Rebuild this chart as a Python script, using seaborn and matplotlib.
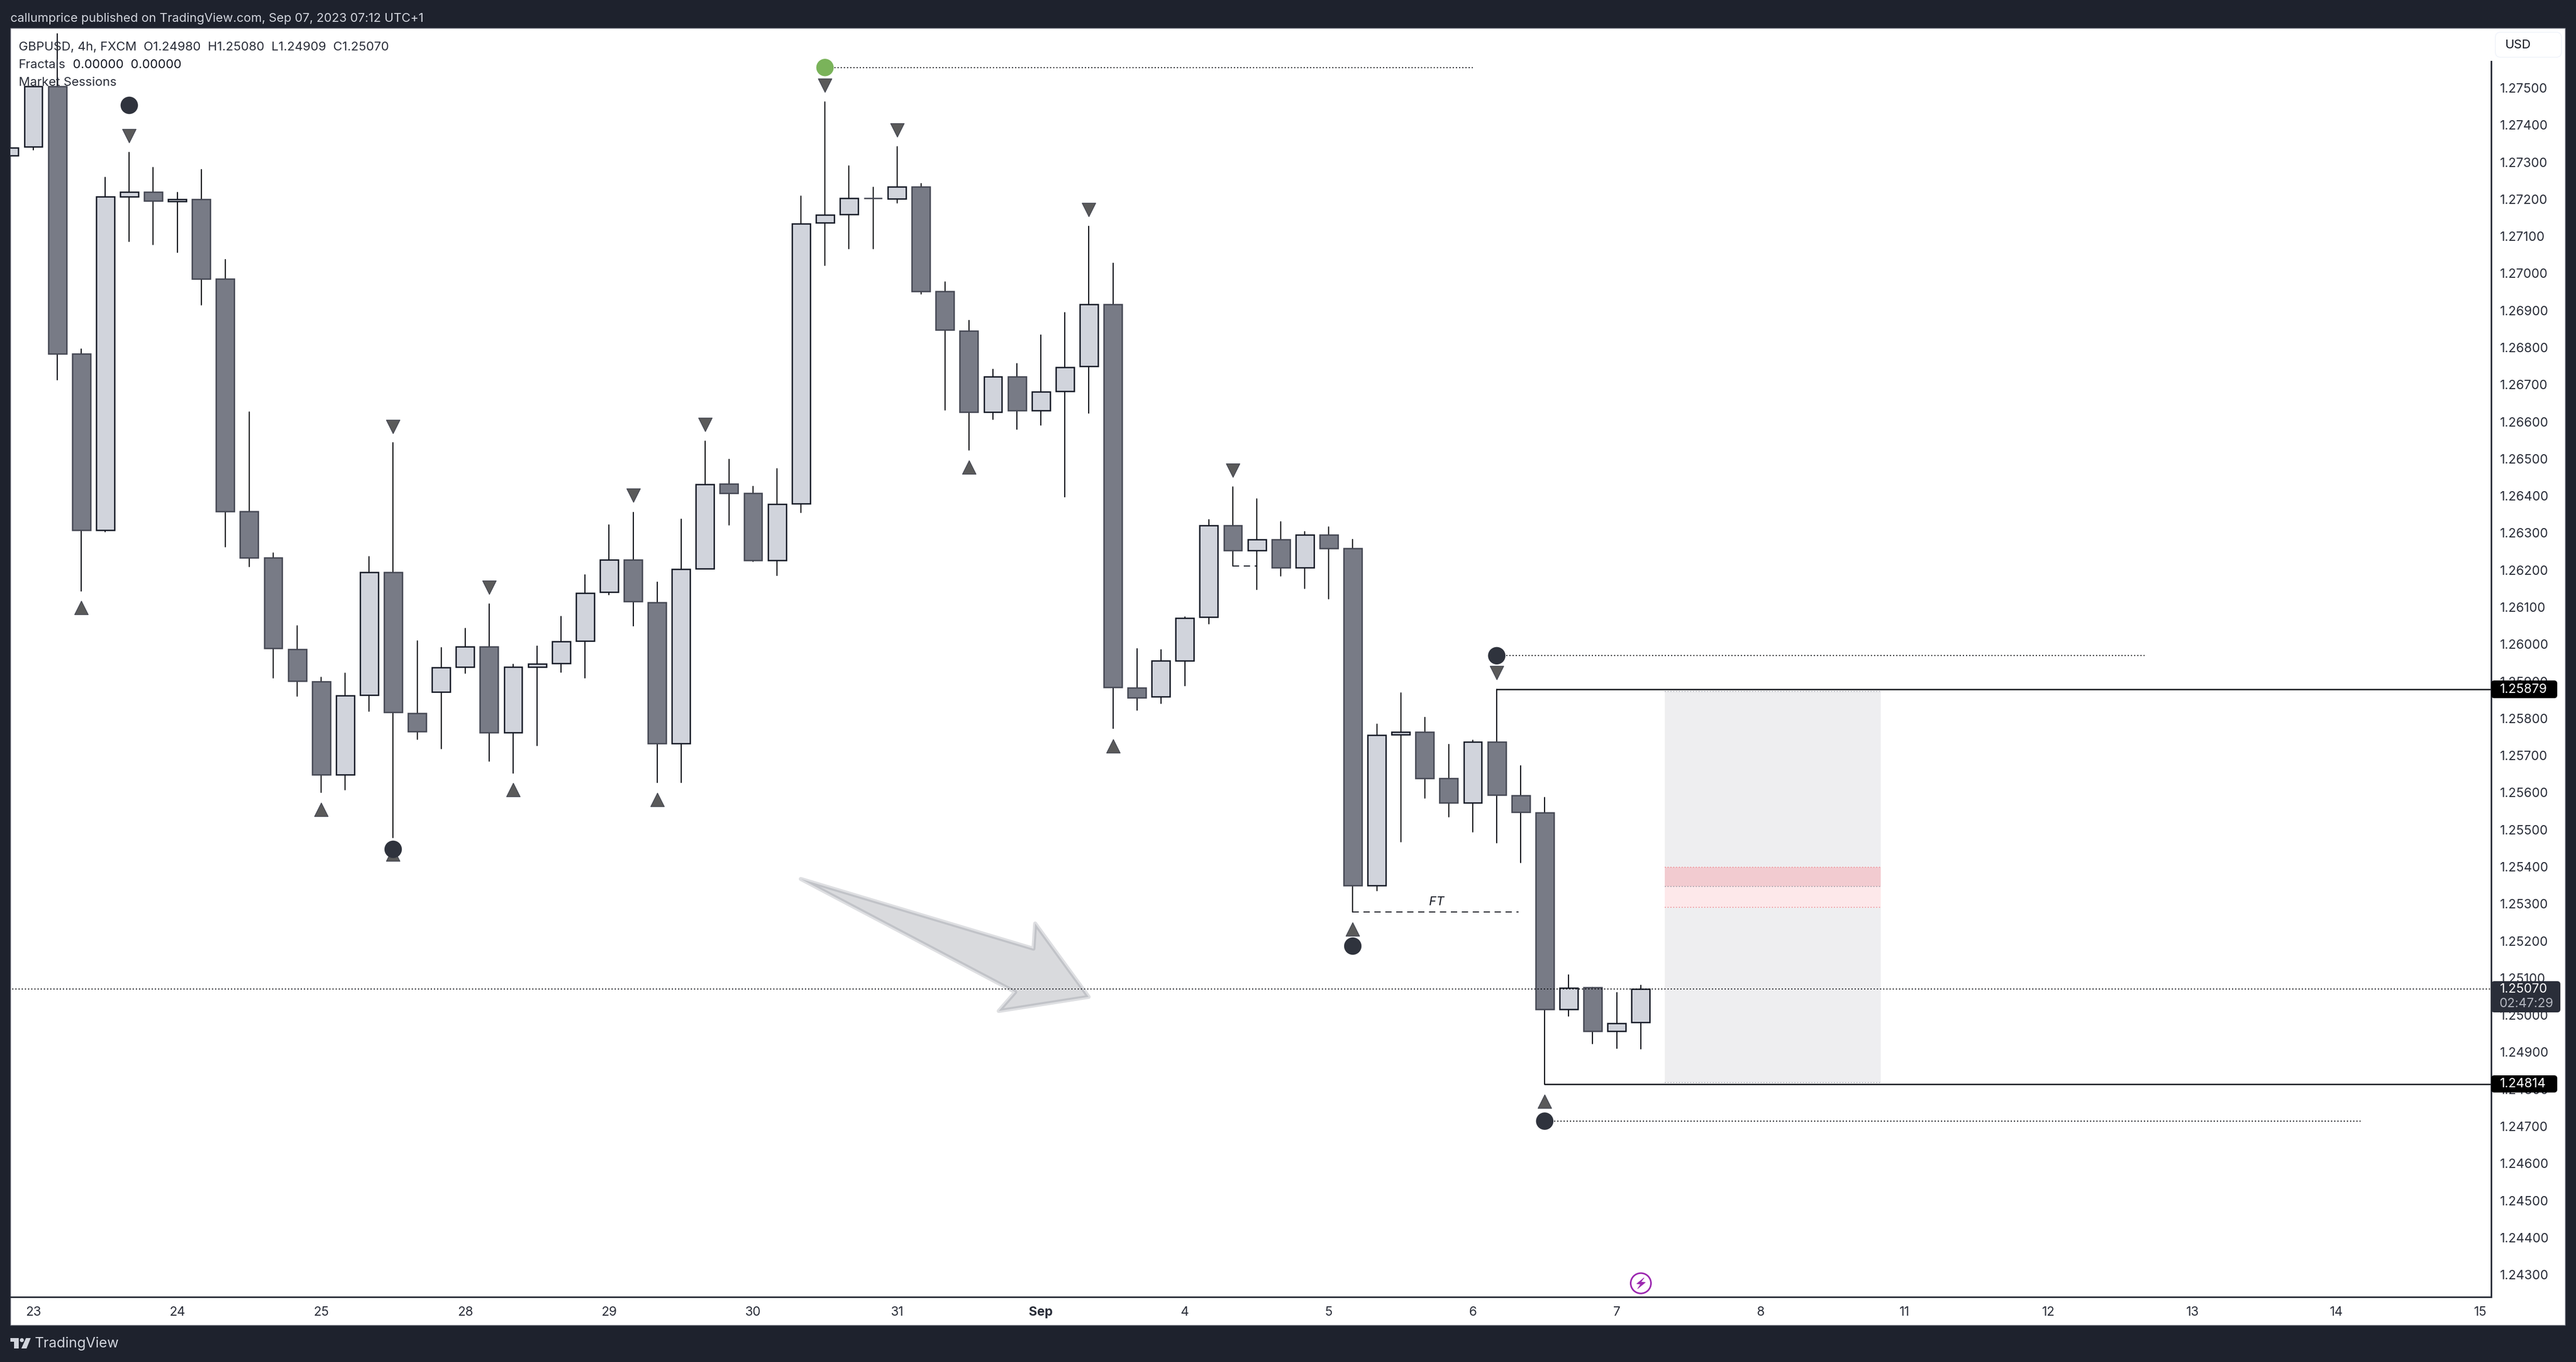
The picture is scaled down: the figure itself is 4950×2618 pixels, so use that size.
import matplotlib
matplotlib.use("Agg")
import matplotlib.pyplot as plt
from matplotlib.patches import Rectangle, FancyBboxPatch, Polygon, Circle
import seaborn as sns
import pandas as pd

# GBPUSD 4h candles, index 0 is the cut off bar at the left edge
opens = [1.27317, 1.27341, 1.27504, 1.26783, 1.26308, 1.27207, 1.27220, 1.27194, 1.27200, 1.26985,
         1.26358, 1.26233, 1.25987, 1.25900, 1.25648, 1.25863, 1.26194, 1.25814, 1.25871, 1.25938,
         1.25994, 1.25762, 1.25939, 1.25949, 1.26009, 1.26140, 1.26227, 1.26113, 1.25733, 1.26204,
         1.26432, 1.26407, 1.26226, 1.26379, 1.27136, 1.27159, 1.27203, 1.27201, 1.27233, 1.26951,
         1.26845, 1.26626, 1.26722, 1.26630, 1.26682, 1.26749, 1.26916, 1.25883, 1.25859, 1.25956,
         1.26073, 1.26320, 1.26253, 1.26283, 1.26206, 1.26295, 1.26258, 1.25350, 1.25757, 1.25764,
         1.25638, 1.25573, 1.25737, 1.25592, 1.25546, 1.25016, 1.25074, 1.24957, 1.24980]
closes = [1.27339, 1.27504, 1.26783, 1.26308, 1.27207, 1.27220, 1.27195, 1.27200, 1.26985, 1.26358,
          1.26233, 1.25989, 1.25901, 1.25648, 1.25862, 1.26194, 1.25816, 1.25765, 1.25937, 1.25994,
          1.25762, 1.25938, 1.25947, 1.26008, 1.26138, 1.26227, 1.26115, 1.25733, 1.26203, 1.26431,
          1.26407, 1.26226, 1.26378, 1.27134, 1.27158, 1.27203, 1.27202, 1.27233, 1.26952, 1.26847,
          1.26626, 1.26722, 1.26630, 1.26681, 1.26747, 1.26916, 1.25884, 1.25856, 1.25955, 1.26071,
          1.26320, 1.26253, 1.26283, 1.26206, 1.26295, 1.26259, 1.25350, 1.25755, 1.25764, 1.25639,
          1.25573, 1.25737, 1.25594, 1.25547, 1.25016, 1.25073, 1.24957, 1.24978, 1.25070]
highs = [1.27339, 1.27504, 1.27646, 1.26796, 1.27258, 1.27326, 1.27285, 1.27218, 1.27280, 1.27037,
         1.26626, 1.26246, 1.26049, 1.25911, 1.25922, 1.26236, 1.26543, 1.26009, 1.25990, 1.26042,
         1.26108, 1.25946, 1.25995, 1.26075, 1.26187, 1.26321, 1.26356, 1.26168, 1.26337, 1.26547,
         1.26498, 1.26426, 1.26473, 1.27208, 1.27462, 1.27290, 1.27232, 1.27342, 1.27242, 1.26977,
         1.26873, 1.26741, 1.26757, 1.26834, 1.26894, 1.27127, 1.27027, 1.25988, 1.25985, 1.26074,
         1.26336, 1.26424, 1.26392, 1.26330, 1.26304, 1.26316, 1.26282, 1.25785, 1.25869, 1.25803,
         1.25730, 1.25741, 1.25879, 1.25672, 1.25587, 1.25108, 1.25074, 1.25061, 1.25080]
lows = [1.27317, 1.27333, 1.26713, 1.26144, 1.26303, 1.27086, 1.27078, 1.27056, 1.26915, 1.26263,
        1.26209, 1.25909, 1.25860, 1.25600, 1.25608, 1.25819, 1.25479, 1.25744, 1.25718, 1.25922,
        1.25685, 1.25653, 1.25727, 1.25924, 1.25909, 1.26134, 1.26050, 1.25627, 1.25627, 1.26204,
        1.26321, 1.26223, 1.26186, 1.26355, 1.27022, 1.27066, 1.27066, 1.27190, 1.26944, 1.26631,
        1.26523, 1.26606, 1.26580, 1.26591, 1.26397, 1.26623, 1.25773, 1.25822, 1.25841, 1.25888,
        1.26055, 1.26211, 1.26147, 1.26184, 1.26151, 1.26122, 1.25278, 1.25335, 1.25467, 1.25585,
        1.25534, 1.25494, 1.25464, 1.25411, 1.24814, 1.24997, 1.24923, 1.24910, 1.24909]

# fractal markers
fractal_down_idx = [5, 16, 20, 26, 29, 34, 37, 45, 51, 62]
fractal_down_px = [1.27371, 1.26587, 1.26153, 1.26402, 1.26593, 1.27507, 1.27387, 1.27172, 1.26469, 1.25923]
fractal_up_idx = [3, 13, 16, 21, 27, 40, 46, 56, 64]
fractal_up_px = [1.26098, 1.25554, 1.25434, 1.25607, 1.25581, 1.26477, 1.25726, 1.25232, 1.24768]
swing_idx = [5, 16, 62, 56, 64]
swing_px = [1.27453, 1.25447, 1.25969, 1.25186, 1.24714]
green_idx = [34]
green_px = [1.27555]

# dotted rays from the swing points: start, end, price
ray_start = [34, 62, 64]
ray_end = [61, 89, 98]
ray_px = [1.27555, 1.25969, 1.24714]

level_high = 1.25879
level_low = 1.24814
last_price = 1.25070

# position tool box
box_left, box_right = 69, 78
box_top, box_bottom = 1.25873, 1.24818
band_top, band_mid, band_low = 1.25399, 1.25346, 1.25291

arrow_idx = [32.99, 42.69, 42.76, 44.99, 41.24, 41.93]
arrow_px = [1.25367, 1.25179, 1.25247, 1.25049, 1.25011, 1.25062]

price_ticks = [1.243 + 0.001 * n for n in range(33)]
time_idx = [1, 7, 13, 19, 25, 31, 37, 43, 49, 55, 61, 67, 73, 79, 85, 91, 97, 103]
time_labels = ["23", "24", "25", "28", "29", "30", "31", "Sep", "4", "5", "6", "7", "8", "11", "12", "13", "14", "15"]

BG = "#1e222d"
INK = "#2a2e39"
UP = "#d1d4dc"
DOWN = "#787b86"
FONT = ["Inter", "DejaVu Sans"]
W, H = 4950, 2618

sns.set_theme(style="white")
plt.rcParams["font.family"] = FONT
plt.rcParams["axes.unicode_minus"] = False

df = pd.DataFrame({"idx": range(len(opens)), "open": opens, "close": closes, "high": highs, "low": lows})
df["top"] = df[["open", "close"]].max(axis=1)
df["bottom"] = df[["open", "close"]].min(axis=1)
df["body"] = df["top"] - df["bottom"]
df["rising"] = df["close"] >= df["open"]
wicks = df.melt(id_vars="idx", value_vars=["high", "low"], value_name="price").sort_values("idx")

fig = plt.figure(figsize=(W / 100, H / 100), dpi=100, facecolor=BG)

# white panel behind everything
panel = fig.add_axes([0, 0, 1, 1], zorder=0)
panel.set_xlim(0, W)
panel.set_ylim(H, 0)
panel.axis("off")
panel.add_patch(Rectangle((20, 54), 4909, 2493, fc="white", ec="#787b86", lw=1))

ax = fig.add_axes([20 / W, 1 - 2493 / H, 4767 / W, 2439 / H], zorder=1)
ax.patch.set_alpha(0)

sns.lineplot(data=wicks, x="idx", y="price", units="idx", estimator=None, sort=False, color="#0c0e14",
             lw=1.6, legend=False, ax=ax, zorder=2)

for rising, face, edge in [(True, UP, "#161a26"), (False, DOWN, "#454854")]:
    part = df[df["rising"] == rising]
    sns.barplot(data=part, x="idx", y="body", bottom=part["bottom"].values, native_scale=True, width=0.755,
                color=face, saturation=1, edgecolor=edge, linewidth=1.9, errorbar=None, ax=ax, zorder=3)

# position box and the two red bands
ax.add_patch(Rectangle((box_left, box_bottom), box_right - box_left, box_top - box_bottom, fc="#eeeef0", ec="none", zorder=1))
ax.add_patch(Rectangle((box_left, band_mid), box_right - box_left, band_top - band_mid, fc="#f2cbd0", ec="none", zorder=1))
ax.add_patch(Rectangle((box_left, band_low), box_right - box_left, band_mid - band_low, fc="#fde8ea", ec="none", zorder=1))
dots = (0, (1.2, 2.05))
for price, col in [(box_top, "#a4a6b0"), (box_bottom, "#a4a6b0"), (band_mid, "#9a9aa5"), (band_top, "#f08a90"), (band_low, "#f08a90")]:
    ax.plot([box_left, box_right], [price, price], color=col, lw=1.2, ls=dots, zorder=1.5)

# arrow drawing
ax.add_patch(Polygon(list(zip(arrow_idx, arrow_px)), closed=True, fc=(120 / 255, 123 / 255, 134 / 255, 0.28),
                     ec=(120 / 255, 123 / 255, 134 / 255, 0.24), lw=5.5, joinstyle="round", zorder=1.8))

# levels
ax.plot([62, 104], [level_high, level_high], color="#0c0e14", lw=1.8, zorder=2)
ax.plot([64, 104], [level_low, level_low], color="#0c0e14", lw=1.8, zorder=2)
ax.plot([-1, 104], [last_price, last_price], color="#05070c", lw=1.35, ls=dots, zorder=5)
for start, end, price in zip(ray_start, ray_end, ray_px):
    ax.plot([start, end], [price, price], color="#05070c", lw=1.35, ls=dots, zorder=2)
dash = (0, (6.2, 4.6))
ax.plot([56, 62.9], [lows[56], lows[56]], color="#131722", lw=1.4, ls=dash, zorder=2)
ax.plot([51, 52], [lows[51], lows[51]], color="#131722", lw=1.4, ls=dash, zorder=2)
ax.text(59.5, 1.25304, "FT", fontsize=17, style="italic", color="#131722", ha="center", va="center", zorder=4)

sns.scatterplot(x=fractal_down_idx, y=fractal_down_px, marker="v", s=350, color="#5a5a5a", edgecolor="#434651",
                linewidth=1, ax=ax, zorder=4)
sns.scatterplot(x=fractal_up_idx, y=fractal_up_px, marker="^", s=350, color="#5a5a5a", edgecolor="#434651",
                linewidth=1, ax=ax, zorder=4)
sns.scatterplot(x=swing_idx, y=swing_px, marker="o", s=580, color="#2f333d", edgecolor="none", ax=ax, zorder=5)
sns.scatterplot(x=green_idx, y=green_px, marker="o", s=580, color="#7ab35a", edgecolor="none", ax=ax, zorder=5)

ax.set_xlim((20 - 17.9) / 46.1, (4787 - 17.9) / 46.1)
ax.set_ylim(1.242399, 1.276613)
ax.set_xlabel("")
ax.set_ylabel("")
ax.set_xticks(time_idx)
ax.set_xticklabels(time_labels, fontsize=17.6, color=INK)
ax.get_xticklabels()[7].set_fontweight("bold")
ax.yaxis.tick_right()
ax.set_yticks(price_ticks)
ax.set_yticklabels([f"{p:.5f}" for p in price_ticks], fontsize=17.6, color=INK)
ax.tick_params(axis="x", length=0, pad=13)
ax.tick_params(axis="y", length=0, pad=12)
sns.despine(ax=ax, left=True, top=True, right=False, bottom=False)
ax.spines["right"].set_color(INK)
ax.spines["right"].set_linewidth(2.2)
ax.spines["right"].set_bounds(1.242399, 1.27572)
ax.spines["bottom"].set_color(INK)
ax.spines["bottom"].set_linewidth(2.2)

# everything above the chart: header, legend, price tags, logo
over = fig.add_axes([0, 0, 1, 1], zorder=2)
over.set_xlim(0, W)
over.set_ylim(H, 0)
over.axis("off")
over.patch.set_alpha(0)

over.text(20, 36, "callumprice published on TradingView.com, Sep 07, 2023 07:12 UTC+1", color=UP, fontsize=17, va="center")
over.text(36, 91, "GBPUSD, 4h, FXCM  O1.24980  H1.25080  L1.24909  C1.25070", color=INK, fontsize=17.3, va="center")
over.text(36, 125, "Fractals", color=INK, fontsize=17.3, va="center")
over.text(140, 125, "0.00000  0.00000", color="#131722", fontsize=17.3, va="center")
over.text(36, 159, "Market Sessions", color=INK, fontsize=17.3, va="center")

over.add_patch(FancyBboxPatch((4803, 70), 111, 32, boxstyle="round,pad=8,rounding_size=10", fc="white", ec="#f0f3fa", lw=1.2))
over.text(4814, 87, "USD", color="#131722", fontsize=17, va="center")


def tag(y0, y1, x1, face):
    over.add_patch(FancyBboxPatch((4787, y0), x1 - 4787, y1 - y0, boxstyle="round,pad=0,rounding_size=6", fc=face, ec="none"))


tag(1308, 1342, 4914, "black")
over.text(4804, 1325, "1.25879", color="white", fontsize=17.6, va="center")
tag(2067, 2100, 4914, "black")
over.text(4804, 2084, "1.24814", color="white", fontsize=17.6, va="center")
tag(1886, 1946, 4920, "#2a2e39")
over.text(4804, 1902, "1.25070", color="white", fontsize=17.6, va="center")
over.text(4802, 1929, "02:47:29", color="#b2b5be", fontsize=17.6, va="center")

# session break icon
over.add_patch(Circle((3153, 2466.7), 19.5, fc="white", ec="#9c27b0", lw=2.2))
bolt = [(3159.3, 2456), (3145, 2467.7), (3152.7, 2468.3), (3146.7, 2477.3), (3161.7, 2465), (3153.3, 2464.3)]
over.add_patch(Polygon(bolt, closed=True, fc="#9c27b0", ec="#9c27b0", lw=0.6))

# TradingView logo
over.add_patch(Polygon([(20, 2572), (36, 2572), (36, 2592), (27, 2592), (27, 2579), (20, 2579)], closed=True, fc=UP, ec="none"))
over.add_patch(Circle((42, 2576), 3.8, fc=UP, ec="none"))
over.add_patch(Polygon([(50, 2572), (59, 2572), (51, 2592), (41, 2592)], closed=True, fc=UP, ec="none"))
over.text(67, 2583, "TradingView", color=UP, fontsize=19.5, va="center")

fig.savefig("out.png", dpi=100, facecolor=BG)
